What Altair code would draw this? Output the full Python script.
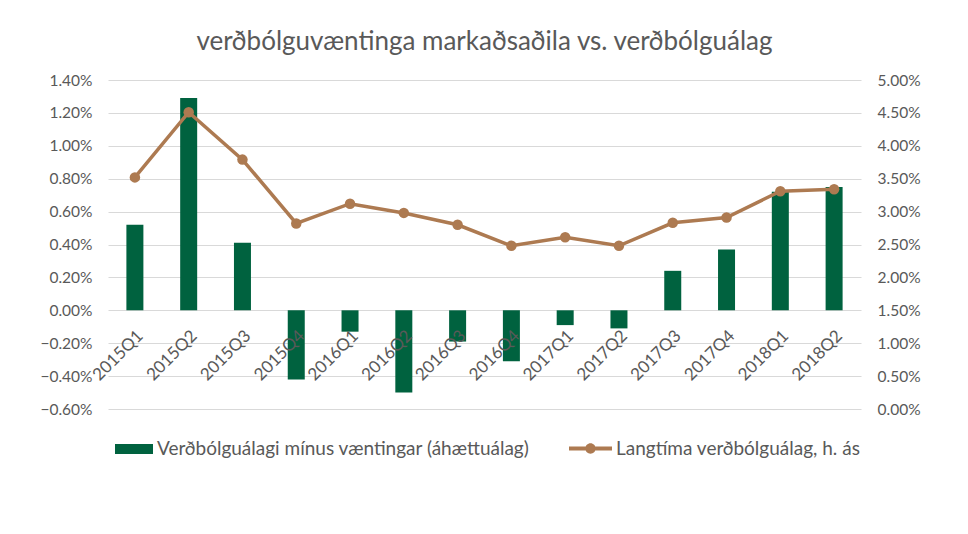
import altair as alt
import pandas as pd

quarters = ["2015Q1", "2015Q2", "2015Q3", "2015Q4", "2016Q1", "2016Q2", "2016Q3",
            "2016Q4", "2017Q1", "2017Q2", "2017Q3", "2017Q4", "2018Q1", "2018Q2"]
risk_premium = [0.0052, 0.0129, 0.0041, -0.0042, -0.0013, -0.0050, -0.0019,
                -0.0031, -0.0009, -0.0011, 0.0024, 0.0037, 0.0072, 0.0075]
breakeven = [0.0352, 0.0451, 0.0379, 0.0282, 0.0312, 0.0298, 0.0280,
             0.0248, 0.0261, 0.0248, 0.0283, 0.0291, 0.0331, 0.0334]
left_ticks = [-0.006, -0.004, -0.002, 0.0, 0.002, 0.004, 0.006, 0.008, 0.010, 0.012, 0.014]
right_ticks = [0.0, 0.005, 0.01, 0.015, 0.02, 0.025, 0.03, 0.035, 0.04, 0.045, 0.05]

s1 = "Verðbólguálagi mínus væntingar (áhættuálag)"
s2 = "Langtíma verðbólguálag, h. ás"
title = "verðbólguvæntinga markaðsaðila vs. verðbólguálag"

GREEN = "#00623F"
BROWN = "#AD7A51"
GREY = "#595959"
FONT = "Lato"

df = pd.DataFrame({"q": quarters, "rp": risk_premium, "be": breakeven,
                   "s1": [s1] * len(quarters), "s2": [s2] * len(quarters)})

W, H = 753, 329
zero_px = H * (0.014 - 0.0) / 0.020
x_offset = -(H - zero_px)

x = alt.X("q:N", sort=quarters, title=None,
          scale=alt.Scale(paddingInner=0, paddingOuter=0),
          axis=alt.Axis(labelAngle=-45, offset=x_offset, domain=False, ticks=False,
                        grid=False, labelColor=GREY, labelFontSize=17, labelFont=FONT,
                        labelPadding=17, zindex=2))

bars = alt.Chart(df).mark_bar(size=17).encode(
    x=x,
    y=alt.Y("rp:Q", title=None,
            scale=alt.Scale(domain=[-0.006, 0.014], nice=False, zero=False),
            axis=alt.Axis(values=left_ticks, format=".2%", domain=False, ticks=False,
                          grid=True, gridColor="#D9D9D9", gridWidth=1,
                          labelColor=GREY, labelFontSize=15.5, labelFont=FONT,
                          labelPadding=16, orient="left")),
    color=alt.Color("s1:N", scale=alt.Scale(domain=[s1], range=[GREEN]),
                    legend=alt.Legend(title=None, orient="none", legendX=7, legendY=350,
                                      symbolType="M-1,-0.26H1V0.26H-1Z", symbolSize=1444,
                                      symbolStrokeWidth=0, labelFontSize=19,
                                      labelFont=FONT, labelColor=GREY, padding=0,
                                      labelOffset=4, labelLimit=0)),
)

yr = alt.Y("be:Q", title=None,
           scale=alt.Scale(domain=[0, 0.05], nice=False, zero=False),
           axis=alt.Axis(values=right_ticks, format=".2%", domain=False, ticks=False,
                         grid=False, labelColor=GREY, labelFontSize=15.5, labelFont=FONT,
                         labelPadding=16, orient="right"))

line = alt.Chart(df).mark_line(color=BROWN, strokeWidth=3.5).encode(
    x=alt.X("q:N", sort=quarters), y=yr)

points = alt.Chart(df).mark_circle(size=110, opacity=1).encode(
    x=alt.X("q:N", sort=quarters), y=yr,
    color=alt.Color("s2:N", scale=alt.Scale(domain=[s2], range=[BROWN]),
                    legend=alt.Legend(title=None, orient="none", legendX=461, legendY=347,
                                      symbolType="M-1,-0.09H1V0.09H-1Z M-0.24,0A0.24,0.24 0 1,1 0.24,0A0.24,0.24 0 1,1 -0.24,0Z",
                                      symbolSize=1849, symbolStrokeWidth=0,
                                      symbolOpacity=1,
                                      labelFontSize=19, labelFont=FONT, labelColor=GREY,
                                      padding=0, labelOffset=4, labelLimit=0)),
)

right = alt.layer(line, points)

chart = alt.layer(bars, right).resolve_scale(
    y="independent", color="independent"
).resolve_legend(color="independent").properties(
    width=W, height=H,
    autosize=alt.AutoSizeParams(type="none"),
    padding={"left": 100, "top": 72, "right": 99, "bottom": 117},
    title=alt.TitleParams(title, fontSize=26, font=FONT, fontWeight="normal",
                          color=GREY, anchor="middle", offset=18),
).configure_view(stroke=None)

chart.save("out.html", embed_options={"renderer": "svg", "actions": False})
